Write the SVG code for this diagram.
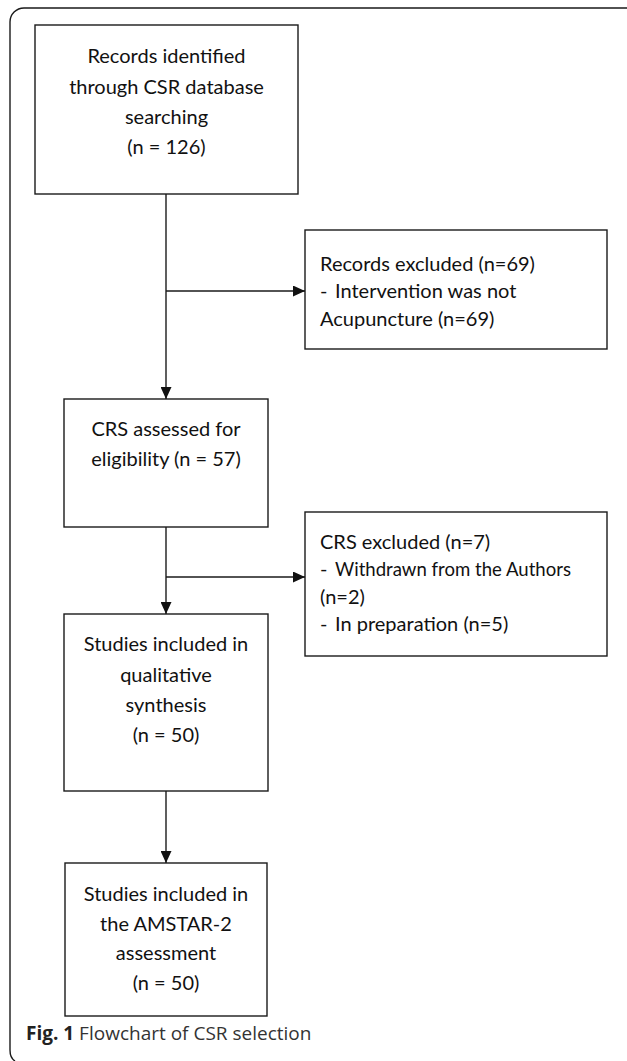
<svg xmlns="http://www.w3.org/2000/svg" width="627" height="1061" viewBox="0 0 627 1061">
<defs>
<style>
.box{fill:#fff;stroke:#1a1a1a;stroke-width:1.4}
.t{font-family:Lato,"Liberation Sans",sans-serif;font-size:20px;fill:#111}
.c{text-anchor:middle}
.ln{stroke:#1a1a1a;stroke-width:1.4;fill:none}
.cap{font-family:"Open Sans","Liberation Sans",sans-serif;font-size:19px;fill:#333}
</style>
<marker id="ah" viewBox="0 0 12 11" refX="12" refY="5.5" markerWidth="12" markerHeight="11" markerUnits="userSpaceOnUse" orient="auto">
<path d="M0,0 L12,5.5 L0,11 z" fill="#111"/>
</marker>
</defs>
<rect width="627" height="1061" fill="#fff"/>
<path class="ln" d="M627,8 H24 A14,14 0 0 0 10,22 V1050 Q10,1058 15,1061"/>
<g id="n1">
<rect class="box" x="35" y="25" width="263" height="169"/>
<text class="t c" x="166.5" y="63">Records identified</text>
<text class="t c" x="166.5" y="94">through CSR database</text>
<text class="t c" x="166.5" y="124">searching</text>
<text class="t c" x="166.5" y="154">(n = 126)</text>
</g>
<g id="n2">
<rect class="box" x="305" y="230" width="302" height="119"/>
<text class="t" x="320" y="271">Records excluded (n=69)</text>
<text class="t" y="298"><tspan x="320">-</tspan><tspan x="335">Intervention was not</tspan></text>
<text class="t" x="320" y="326">Acupuncture (n=69)</text>
</g>
<g id="n3">
<rect class="box" x="64" y="399" width="204" height="128"/>
<text class="t c" x="166" y="436">CRS assessed for</text>
<text class="t c" x="166" y="466">eligibility (n = 57)</text>
</g>
<g id="n4">
<rect class="box" x="305" y="512" width="302" height="144"/>
<text class="t" x="320" y="549">CRS excluded (n=7)</text>
<text class="t" y="576"><tspan x="320">-</tspan><tspan x="335" textLength="236" lengthAdjust="spacingAndGlyphs">Withdrawn from the Authors</tspan></text>
<text class="t" x="320" y="604">(n=2)</text>
<text class="t" y="631"><tspan x="320">-</tspan><tspan x="335">In preparation (n=5)</tspan></text>
</g>
<g id="n5">
<rect class="box" x="64" y="614" width="204" height="177"/>
<text class="t c" x="166" y="651">Studies included in</text>
<text class="t c" x="166" y="682">qualitative</text>
<text class="t c" x="166" y="712">synthesis</text>
<text class="t c" x="166" y="742">(n = 50)</text>
</g>
<g id="n6">
<rect class="box" x="65" y="863" width="202" height="153"/>
<text class="t c" x="166" y="901">Studies included in</text>
<text class="t c" x="166" y="931">the AMSTAR-2</text>
<text class="t c" x="166" y="960">assessment</text>
<text class="t c" x="166" y="990">(n = 50)</text>
</g>
<g id="connectors">
<line class="ln" x1="166" y1="194" x2="166" y2="399" marker-end="url(#ah)"/>
<line class="ln" x1="166" y1="291" x2="305" y2="291" marker-end="url(#ah)"/>
<line class="ln" x1="166" y1="527" x2="166" y2="614" marker-end="url(#ah)"/>
<line class="ln" x1="166" y1="577" x2="305" y2="577" marker-end="url(#ah)"/>
<line class="ln" x1="166" y1="791" x2="166" y2="863" marker-end="url(#ah)"/>
</g>
<text class="cap" x="26" y="1040"><tspan font-weight="bold" fill="#222">Fig. 1</tspan> Flowchart of CSR selection</text>
</svg>
